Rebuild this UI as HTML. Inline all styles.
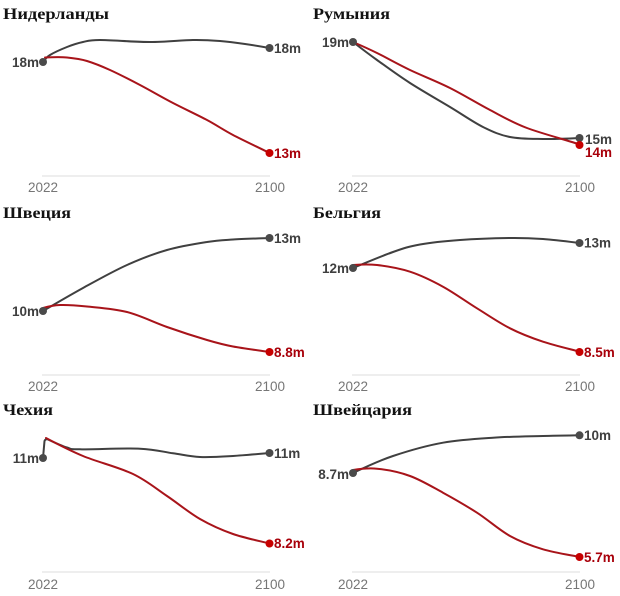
<!DOCTYPE html>
<html>
<head>
<meta charset="utf-8">
<style>
html,body{margin:0;padding:0;background:#fff;}
svg{display:block;}
.t{font-family:"Liberation Serif","Noto Serif CJK SC",serif;font-weight:bold;font-size:16px;fill:#121212;}
.lb{font-family:"Liberation Sans",sans-serif;font-weight:bold;font-size:13.5px;fill:#3f3f3f;}
.lr{font-family:"Liberation Sans",sans-serif;font-weight:bold;font-size:13.5px;fill:#a8000a;}
.yr{font-family:"Liberation Sans",sans-serif;font-size:13.5px;fill:#767676;}
.ax{stroke:#e3e3e3;stroke-width:1.2;}
.g{fill:none;stroke:#404040;stroke-width:2;stroke-linecap:round;stroke-linejoin:round;}
.r{fill:none;stroke:#a8141a;stroke-width:2;stroke-linecap:round;stroke-linejoin:round;}
.dg{fill:#4a4a4a;}
.dr{fill:#c70000;}
</style>
</head>
<body>
<svg width="620" height="596" viewBox="0 0 620 596" xmlns="http://www.w3.org/2000/svg">

<!-- Panel 1: Нидерланды -->
<text class="t" x="3" y="19" textLength="106" lengthAdjust="spacingAndGlyphs">Нидерланды</text>
<line class="ax" x1="42" y1="176" x2="270" y2="176"/>
<text class="yr" x="43" y="192" text-anchor="middle">2022</text>
<text class="yr" x="270" y="192" text-anchor="middle">2100</text>
<path class="g" d="M43 62 S46 57.5 50 55 S61.5 49.2 67 47 S77.5 43.2 83 42 S88.8 40 100 40 S134.5 42 150 42 S181.3 40.2 193 40 S211.3 40.3 220 41 S236.7 42.8 245 44 S265.8 47.3 269.5 48"/>
<path class="r" d="M45 57.5 S60 56.8 67 57.5 S79.8 58.8 87 61 S101.2 66 110 70 S129.5 79.5 140 85 S161.8 97.2 173 103 S197 114.7 207 120 S222.5 129.5 233 135 S263.8 150 269.5 153"/>
<circle class="dg" cx="43" cy="62" r="4"/>
<circle class="dg" cx="269.5" cy="48" r="4"/>
<circle class="dr" cx="269.5" cy="153" r="4"/>
<text class="lb" x="39" y="67" text-anchor="end">18m</text>
<text class="lb" x="274" y="53">18m</text>
<text class="lr" x="274" y="158">13m</text>

<!-- Panel 2: Румыния -->
<text class="t" x="313" y="19" textLength="77" lengthAdjust="spacingAndGlyphs">Румыния</text>
<line class="ax" x1="352" y1="176" x2="580" y2="176"/>
<text class="yr" x="353" y="192" text-anchor="middle">2022</text>
<text class="yr" x="580" y="192" text-anchor="middle">2100</text>
<path class="g" d="M353 42 S367.5 53.2 377 60 S397.8 75.2 410 83 S437.8 99.7 450 107 S473 122 483 127 S500 135 510 137 S531.3 138.8 543 139 S573.8 138.2 579.5 138"/>
<path class="r" d="M353 42 S367.5 48.3 377 53 S397.8 64.2 410 70 S436.7 81.3 450 88 S477.2 103.3 490 110 S512 122.3 527 128 S571.2 141.3 579.5 144.5"/>
<circle class="dg" cx="353" cy="42" r="4"/>
<circle class="dg" cx="579.5" cy="138" r="4"/>
<circle class="dr" cx="579.5" cy="145" r="4"/>
<text class="lb" x="349" y="47" text-anchor="end">19m</text>
<text class="lb" x="585" y="144">15m</text>
<text class="lr" x="585" y="157">14m</text>

<!-- Panel 3: Швеция -->
<text class="t" x="3" y="218" textLength="68" lengthAdjust="spacingAndGlyphs">Швеция</text>
<line class="ax" x1="42" y1="375" x2="270" y2="375"/>
<text class="yr" x="43" y="391" text-anchor="middle">2022</text>
<text class="yr" x="270" y="391" text-anchor="middle">2100</text>
<path class="g" d="M43 311 S69 295.7 83 288 S113 271.3 127 265 S153.7 253.8 167 250 S196 243.75 207 242 S222.5 240.2 233 239.5 S263.8 238.3 269.5 238"/>
<path class="r" d="M43 308 S52.7 305.25 60 305 S75.8 305.3 87 306.5 S113.7 308.6 127 312 S153.7 322.3 167 327 S196 336.75 207 340 S222.5 344.5 233 346.5 S263.8 351.1 269.5 352"/>
<circle class="dg" cx="43" cy="311" r="4"/>
<circle class="dg" cx="269.5" cy="238" r="4"/>
<circle class="dr" cx="269.5" cy="352" r="4"/>
<text class="lb" x="39" y="316" text-anchor="end">10m</text>
<text class="lb" x="274" y="243">13m</text>
<text class="lr" x="274" y="357">8.8m</text>

<!-- Panel 4: Бельгия -->
<text class="t" x="313" y="218" textLength="68" lengthAdjust="spacingAndGlyphs">Бельгия</text>
<line class="ax" x1="352" y1="375" x2="580" y2="375"/>
<text class="yr" x="353" y="391" text-anchor="middle">2022</text>
<text class="yr" x="580" y="391" text-anchor="middle">2100</text>
<path class="g" d="M353 268 S381.8 256 393 252 S408.8 246.5 420 244.5 S445 241.1 460 240 S496.2 238.2 510 238 S531.3 238.2 543 239 S573.8 242.3 579.5 243"/>
<path class="r" d="M353 265 S367.5 263.9 377 265 S399 268.1 410 271.7 S431.8 280.6 443 286.7 S465.8 301.4 477 308.3 S499 322.7 510 328.3 S531.3 337.8 543 341.7 S573.8 350 579.5 351.7"/>
<circle class="dg" cx="353" cy="268" r="4"/>
<circle class="dg" cx="579.5" cy="243" r="4"/>
<circle class="dr" cx="579.5" cy="352" r="4"/>
<text class="lb" x="349" y="273" text-anchor="end">12m</text>
<text class="lb" x="584" y="247.5">13m</text>
<text class="lr" x="584" y="357">8.5m</text>

<!-- Panel 5: Чехия -->
<text class="t" x="3" y="415" textLength="50" lengthAdjust="spacingAndGlyphs">Чехия</text>
<line class="ax" x1="42" y1="572" x2="270" y2="572"/>
<text class="yr" x="43" y="589" text-anchor="middle">2022</text>
<text class="yr" x="270" y="589" text-anchor="middle">2100</text>
<path class="g" d="M43 458 L44.5 441 Q45.5 438.5 48 439.5 S61.5 445.8 67 447.5 S67.8 449.1 80 449.3 S124.5 448 140 448.7 S163 451.9 173 453.3 S190 456.55 200 457 S221.3 456.7 233 456 S263.8 453.5 269.5 453"/>
<path class="r" d="M46 438 S68.5 450 83 456 S119 467.3 133 474 S155.8 488.5 167 496 S189 512.7 200 519 S221.3 529.9 233 534 S263.8 541.9 269.5 543.5"/>
<circle class="dg" cx="43" cy="458" r="4"/>
<circle class="dg" cx="269.5" cy="453" r="4"/>
<circle class="dr" cx="269.5" cy="543.5" r="4"/>
<text class="lb" x="39" y="463" text-anchor="end">11m</text>
<text class="lb" x="274" y="458">11m</text>
<text class="lr" x="274" y="548">8.2m</text>

<!-- Panel 6: Швейцария -->
<text class="t" x="313" y="415" textLength="99" lengthAdjust="spacingAndGlyphs">Швейцария</text>
<line class="ax" x1="352" y1="572" x2="580" y2="572"/>
<text class="yr" x="353" y="589" text-anchor="middle">2022</text>
<text class="yr" x="580" y="589" text-anchor="middle">2100</text>
<path class="g" d="M353 473 S378 461 393 456 S426.3 445.7 443 442.7 S476.3 438.8 493 437.7 S528.5 436.4 543 436 S573.8 435.4 579.5 435.3"/>
<path class="r" d="M353 470 S367.5 467.7 377 468.7 S399 472 410 476 S431.8 486.6 443 492.7 S465.8 505.5 477 512.7 S499 529.9 510 536 S531.3 545.8 543 549.3 S573.8 555.7 579.5 557"/>
<circle class="dg" cx="353" cy="473" r="4"/>
<circle class="dg" cx="579.5" cy="435.3" r="4"/>
<circle class="dr" cx="579.5" cy="557" r="4"/>
<text class="lb" x="349" y="479" text-anchor="end">8.7m</text>
<text class="lb" x="584" y="440">10m</text>
<text class="lr" x="584" y="562">5.7m</text>

</svg>
</body>
</html>
